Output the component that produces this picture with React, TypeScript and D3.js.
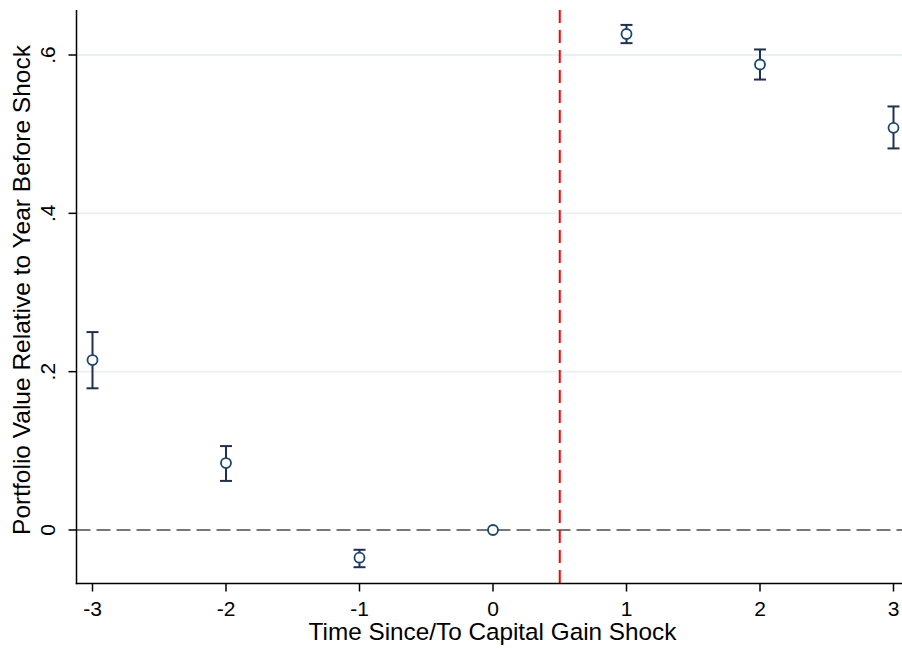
import React from "react";
import * as d3 from "d3";

const periods = [-3, -2, -1, 0, 1, 2, 3];
const estimates = [0.2147, 0.0846, -0.035, 0, 0.6265, 0.588, 0.508];
const ciLower = [0.179, 0.062, -0.047, null, 0.615, 0.569, 0.482];
const ciUpper = [0.25, 0.106, -0.025, null, 0.638, 0.607, 0.535];
const xTicks = [-3, -2, -1, 0, 1, 2, 3];
const yTicks = [0, 0.2, 0.4, 0.6];
const yTickLabels = ["0", ".2", ".4", ".6"];
const shockLine = 0.5;

const W = 902;
const H = 648;
const FONT = "Arial, 'Liberation Sans', Helvetica, sans-serif";

export default function App() {
  const x = d3.scaleLinear().domain([-3, 3]).range([92.5, 893.5]);
  const y = d3.scaleLinear().domain([0, 0.6]).range([530, 55]);
  const axisX = 76.5;
  const axisY = 583.5;
  const top = 10;

  return (
    <svg width={W} height={H} style={{ position: "absolute", left: 0, top: 0, background: "#fff" }}>
      <rect x={0} y={0} width={W} height={H} fill="#fff" />
      {yTicks.slice(1).map((t) => (
        <line key={"g" + t} x1={axisX} x2={W} y1={y(t)} y2={y(t)} stroke="#e8f0f2" strokeWidth={1.8} />
      ))}
      <line x1={axisX} x2={W} y1={y(0)} y2={y(0)} stroke="#777" strokeWidth={2} strokeDasharray="14 6" />
      <line x1={x(shockLine)} x2={x(shockLine)} y1={top} y2={axisY} stroke="#ff0000" strokeWidth={2} strokeDasharray="13 7" />
      {periods.map((p, i) => {
        const lo = ciLower[i];
        const hi = ciUpper[i];
        if (lo == null || hi == null) return null;
        const cx = x(p);
        return (
          <g key={"e" + p} stroke="#1f2f55" strokeWidth={2}>
            <line x1={cx} x2={cx} y1={y(lo)} y2={y(hi)} />
            <line x1={cx - 6} x2={cx + 6} y1={y(lo)} y2={y(lo)} />
            <line x1={cx - 6} x2={cx + 6} y1={y(hi)} y2={y(hi)} />
          </g>
        );
      })}
      {periods.map((p, i) => (
        <circle key={"m" + p} cx={x(p)} cy={y(estimates[i])} r={5} fill="#fff" stroke="#1a476f" strokeWidth={1.8} />
      ))}
      <line x1={axisX} x2={axisX} y1={top} y2={axisY + 0.75} stroke="#000" strokeWidth={1.5} />
      <line x1={axisX - 0.75} x2={W} y1={axisY} y2={axisY} stroke="#000" strokeWidth={1.5} />
      {yTicks.map((t, i) => (
        <g key={"yt" + t}>
          <line x1={axisX - 8} x2={axisX} y1={y(t)} y2={y(t)} stroke="#000" strokeWidth={1.5} />
          <text
            transform={`translate(55,${y(t)}) rotate(-90)`}
            textAnchor="middle"
            fontFamily={FONT}
            fontSize={21}
            fill="#000"
          >
            {yTickLabels[i]}
          </text>
        </g>
      ))}
      {xTicks.map((t) => (
        <g key={"xt" + t}>
          <line x1={x(t)} x2={x(t)} y1={axisY} y2={axisY + 8} stroke="#000" strokeWidth={1.5} />
          <text x={x(t)} y={615.5} textAnchor="middle" fontFamily={FONT} fontSize={21} fill="#000">
            {String(t)}
          </text>
        </g>
      ))}
      <text x={492.5} y={640} textAnchor="middle" fontFamily={FONT} fontSize={24.3} fill="#000">
        Time Since/To Capital Gain Shock
      </text>
      <text
        transform={`translate(30,290) rotate(-90)`}
        textAnchor="middle"
        fontFamily={FONT}
        fontSize={24.5}
        fill="#000"
      >
        Portfolio Value Relative to Year Before Shock
      </text>
    </svg>
  );
}
